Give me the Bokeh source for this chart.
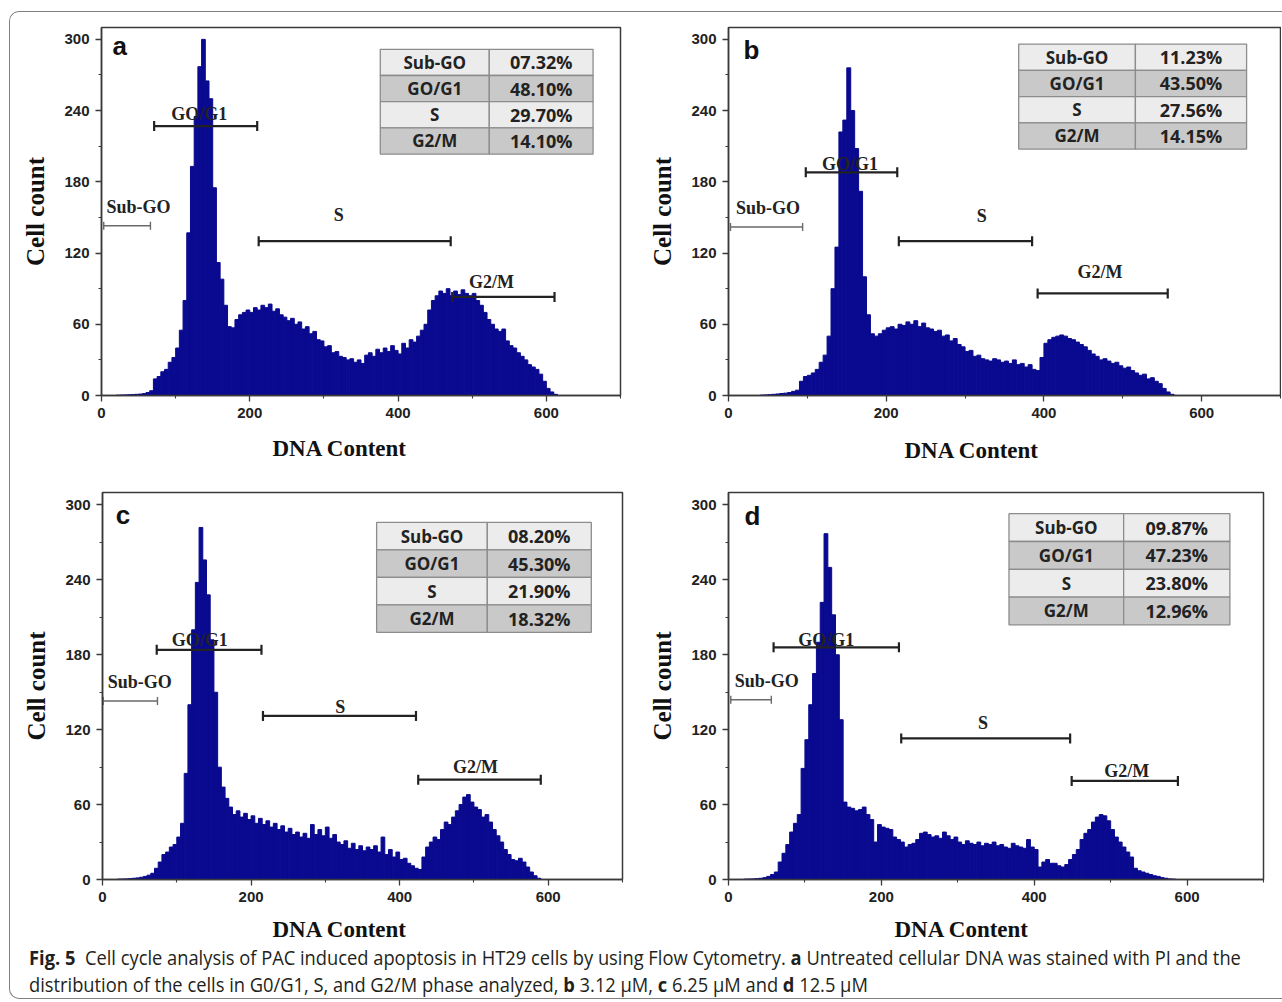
import math
from bokeh.plotting import figure
from bokeh.models import FixedTicker, Div, Range1d, Title
from bokeh.layouts import column, row
from bokeh.embed import file_html
from bokeh.resources import INLINE
from bokeh.core.properties import value

# ---------------- data ----------------
BIN_START = 20      # DNA content channel of the first bin's left edge
BIN_WIDTH = 5       # channels per bin

counts_a = [
    0.3, 0.4, 0.5, 0.6, 0.8, 1, 1.2, 1.6, 2.5, 4,
    14, 16, 20, 22, 28, 32, 40, 55, 80, 137,
    193, 235, 277, 300, 265, 250, 175, 112, 98, 76,
    58, 57, 64, 68, 70, 72, 70, 74, 72, 76,
    74, 77, 71, 73, 68, 66, 63, 65, 60, 62,
    56, 58, 52, 54, 47, 46, 41, 42, 36, 37,
    33, 32, 30, 31, 28, 30, 27, 34, 36, 33,
    39, 36, 40, 37, 42, 38, 35, 44, 40, 47,
    45, 50, 55, 60, 72, 80, 84, 88, 86, 90,
    84, 88, 85, 89, 86, 84, 86, 80, 76, 70,
    64, 60, 56, 54, 56, 46, 42, 40, 36, 33,
    30, 26, 24, 22, 18, 12, 6, 3, 1, 0,
]
counts_b = [
    0, 0, 0, 0, 0.3, 0.5, 0.7, 1, 1.3, 1.7,
    2, 2.5, 3.5, 4.5, 12, 16, 17, 19, 22, 28,
    34, 50, 90, 125, 222, 232, 276, 240, 208, 172,
    100, 68, 52, 50, 52, 55, 57, 58, 56, 60,
    59, 62, 60, 63, 58, 61, 57, 56, 54, 55,
    50, 51, 46, 48, 43, 41, 37, 38, 33, 34,
    31, 30, 29, 31, 30, 28, 29, 27, 30, 26,
    27, 24, 26, 22, 21, 32, 44, 47, 49, 50,
    51, 50, 48, 47, 45, 43, 41, 38, 35, 33,
    30, 31, 29, 27, 28, 25, 23, 24, 21, 19,
    17, 18, 14, 15, 12, 10, 6, 3, 1, 0,
    0, 0, 0, 0, 0, 0, 0, 0, 0, 0,
]
counts_c = [
    0.3, 0.4, 0.5, 0.7, 1, 1.3, 1.8, 2.5, 3.5, 5,
    9, 14, 20, 22, 26, 28, 34, 45, 85, 140,
    200, 238, 282, 256, 228, 192, 150, 90, 74, 65,
    58, 52, 55, 50, 53, 48, 51, 45, 49, 44,
    47, 42, 45, 40, 43, 38, 41, 36, 38, 34,
    37, 33, 44, 36, 40, 35, 42, 33, 36, 30,
    28, 31, 25, 29, 24, 27, 23, 26, 24, 27,
    22, 34, 20, 24, 18, 22, 16, 17, 13, 11,
    9, 8, 18, 26, 30, 34, 32, 40, 46, 44,
    50, 55, 60, 66, 68, 62, 58, 56, 50, 52,
    46, 40, 35, 30, 24, 20, 16, 15, 17, 14,
    10, 6, 3, 1, 0, 0, 0, 0, 0, 0,
]
counts_d = [
    0.3, 0.4, 0.5, 0.7, 1, 1.5, 2.5, 4, 6, 14,
    21, 28, 38, 45, 52, 89, 112, 140, 165, 190,
    222, 277, 250, 212, 180, 128, 62, 58, 57, 55,
    56, 58, 52, 48, 30, 44, 42, 41, 40, 34,
    32, 30, 26, 28, 29, 32, 37, 38, 36, 34,
    35, 33, 38, 35, 32, 34, 30, 28, 31, 29,
    28, 30, 27, 29, 28, 30, 27, 28, 26, 25,
    29, 27, 26, 25, 32, 26, 24, 10, 14, 16,
    13, 13, 11, 10, 12, 16, 20, 24, 32, 37,
    40, 46, 50, 52, 51, 47, 40, 34, 30, 26,
    22, 18, 9, 7, 6, 5, 4, 3, 2.5, 1.5,
    1, 0.5, 0.3, 0, 0, 0, 0, 0, 0, 0,
]

gate_names = ["Sub-GO", "GO/G1", "S", "G2/M"]
# gate markers (DNA content start/end, drawn at a cell-count level) and their label anchors
gate_start_a = [3, 71, 212, 473]
gate_end_a = [66, 210, 471, 611]
gate_level_a = [143, 227, 130, 83]
label_x_a = [50, 132, 320, 526]
label_y_a = [159, 237, 152, 96]

gate_start_b = [2.5, 98, 216, 392]
gate_end_b = [94, 214, 385, 557]
gate_level_b = [142, 188, 130, 86]
label_x_b = [50, 154, 321, 471]
label_y_b = [158, 195, 151, 104]

gate_start_c = [1, 73, 216, 425]
gate_end_c = [74, 214, 422, 590]
gate_level_c = [143, 184, 131, 80]
label_x_c = [50, 131, 320, 502]
label_y_c = [158, 192, 138, 90]

gate_start_d = [3, 59, 226, 449]
gate_end_d = [56, 223, 447, 588]
gate_level_d = [144, 186, 113, 79]
label_x_d = [50, 128, 333, 521]
label_y_d = [159, 192, 125, 87]

phase_rows = ["Sub-GO", "GO/G1", "S", "G2/M"]
pct_a = ["07.32%", "48.10%", "29.70%", "14.10%"]
pct_b = ["11.23%", "43.50%", "27.56%", "14.15%"]
pct_c = ["08.20%", "45.30%", "21.90%", "18.32%"]
pct_d = ["09.87%", "47.23%", "23.80%", "12.96%"]

x_major = [0, 200, 400, 600]
x_minor = [100, 300, 500, 700]
y_major = [0, 60, 120, 180, 240, 300]
y_minor = [30, 90, 150, 210, 270]

# ---------------- styling / layout ----------------
BAR = "#0a0a90"
AX = "#3a3a3a"
SERIF = "Liberation Serif"
SANS = "Liberation Sans"

def make_panel(letter, counts, gs, ge, gl, lx, ly, pct, lay):
    p = figure(width=lay["w"], height=lay["h"], output_backend="svg",
               toolbar_location=None,
               x_range=Range1d(0, 700), y_range=Range1d(0, 310),
               min_border_left=lay["l"], min_border_right=lay["r"],
               min_border_top=lay["t"], min_border_bottom=lay["b"])
    p.background_fill_color = "white"
    p.border_fill_color = "white"
    p.grid.visible = False
    p.outline_line_color = AX
    p.outline_line_width = 1.5

    centers = [BIN_START + BIN_WIDTH * (i + 0.5) for i in range(len(counts))]
    p.vbar(x=centers, top=counts, bottom=0, width=BIN_WIDTH,
           fill_color=BAR, line_color=BAR, line_width=1)

    # gates
    for i in range(len(gs)):
        col = "#6a6a6a" if i == 0 else "#222222"
        lw = 1.4 if i == 0 else 2.2
        p.segment(x0=[gs[i]], y0=[gl[i]], x1=[ge[i]], y1=[gl[i]],
                  line_color=col, line_width=lw)
        p.scatter(x=[gs[i], ge[i]], y=[gl[i], gl[i]], marker="dash",
                  angle=math.pi / 2, size=10 if i else 8,
                  line_color=col, line_width=lw)
    p.text(x=lx, y=ly, text=gate_names, text_font=value(SERIF),
           text_font_style="bold", text_font_size="18px",
           text_align="center", text_baseline="middle", text_color="#222222")

    # inset table
    x0, x1, x2, ttop, tbot = lay["table"]
    rh = (ttop - tbot) / len(phase_rows)
    tops = [ttop - i * rh for i in range(len(phase_rows))]
    bots = [t - rh for t in tops]
    fills = ["#ececec", "#c9c9c9", "#ececec", "#c9c9c9"]
    p.quad(left=[x0] * 4, right=[x1] * 4, top=tops, bottom=bots,
           fill_color=fills, line_color="#8c8c8c", line_width=1.3)
    p.quad(left=[x1] * 4, right=[x2] * 4, top=tops, bottom=bots,
           fill_color=fills, line_color="#8c8c8c", line_width=1.3)
    mids = [t - rh / 2 for t in tops]
    p.text(x=[(x0 + x1) / 2] * 4, y=mids, text=phase_rows,
           text_font=value("Open Sans"), text_font_style="bold",
           text_font_size="17px", text_align="center",
           text_baseline="middle", text_color="#222222")
    p.text(x=[(x1 + x2) / 2] * 4, y=mids, text=pct,
           text_font=value("Open Sans"), text_font_style="bold",
           text_font_size="18px", text_align="center",
           text_baseline="middle", text_color="#222222")

    # panel letter
    p.text(x=[lay["letter"][0]], y=[lay["letter"][1]], text=[letter],
           text_font=value(SANS), text_font_style="bold",
           text_font_size="26px", text_align="left",
           text_baseline="middle", text_color="#111111")

    # axes
    p.xaxis.ticker = FixedTicker(ticks=x_major, minor_ticks=x_minor)
    p.yaxis.ticker = FixedTicker(ticks=y_major, minor_ticks=y_minor)
    p.yaxis.axis_label = "Cell count"
    for ax in (p.xaxis[0], p.yaxis[0]):
        ax.axis_line_color = AX
        ax.axis_line_width = 1.5
        ax.major_tick_line_color = AX
        ax.minor_tick_line_color = AX
        ax.major_tick_line_width = 1.3
        ax.minor_tick_line_width = 1.1
        ax.major_tick_out = 6
        ax.major_tick_in = 0
        ax.minor_tick_out = 3
        ax.minor_tick_in = 0
        ax.major_label_text_font = SANS
        ax.major_label_text_font_style = "bold"
        ax.major_label_text_font_size = "15px"
        ax.major_label_text_color = "#222222"
        ax.major_label_standoff = 6
        ax.axis_label_text_font = SERIF
        ax.axis_label_text_font_style = "bold"
        ax.axis_label_text_color = "#111111"
    p.yaxis.axis_label_text_font_size = "25px"
    p.yaxis.axis_label_standoff = 12

    # x-axis title, placed off-centre as in the original figure
    p.add_layout(Title(text="DNA Content", align="left", offset=lay["xo"],
                       vertical_align="top", standoff=lay["xs"],
                       text_font=SERIF, text_font_style="bold",
                       text_font_size="23px", text_color="#111111"), "below")
    return p

lay_a = dict(w=631, h=470, l=91, r=21, t=15, b=86, xo=171, xs=30,
             table=(376, 523, 663, 291.6, 203.4), letter=(15, 294))
lay_b = dict(w=640, h=470, l=87, r=1, t=14, b=87, xo=176, xs=34,
             table=(368, 516, 657, 296, 207.6), letter=(19, 291))
lay_c = dict(w=631, h=473, l=92, r=19, t=10, b=76, xo=170, xs=24,
             table=(369, 518, 658, 286, 198), letter=(18, 292))
lay_d = dict(w=640, h=473, l=87, r=18, t=10, b=76, xo=166, xs=24,
             table=(367, 517, 656, 293, 204), letter=(21, 291))

pa = make_panel("a", counts_a, gate_start_a, gate_end_a, gate_level_a, label_x_a, label_y_a, pct_a, lay_a)
pb = make_panel("b", counts_b, gate_start_b, gate_end_b, gate_level_b, label_x_b, label_y_b, pct_b, lay_b)
pc = make_panel("c", counts_c, gate_start_c, gate_end_c, gate_level_c, label_x_c, label_y_c, pct_c, lay_c)
pd = make_panel("d", counts_d, gate_start_d, gate_end_d, gate_level_d, label_x_d, label_y_d, pct_d, lay_d)

caption_html = (
    '<div style="padding-left:14px;margin-top:-16px;">'
    '<div style="font-family:\'Open Sans\',sans-serif;font-size:20px;line-height:27px;'
    'color:#231f20;white-space:nowrap;transform:scaleX(0.915);transform-origin:0 0;">'
    '<b>Fig. 5</b>&nbsp; Cell cycle analysis of PAC induced apoptosis in HT29 cells by using '
    'Flow Cytometry. <b>a</b> Untreated cellular DNA was stained with PI and the<br>'
    'distribution of the cells in G0/G1, S, and G2/M phase analyzed, <b>b</b> 3.12 \u00b5M, '
    '<b>c</b> 6.25 \u00b5M and <b>d</b> 12.5 \u00b5M'
    '</div></div>'
)
cap = Div(text=caption_html, width=1271, height=43)

page = column(row(pa, pb), row(pc, pd), cap,
              styles={"border": "1px solid #7f7f7f", "border-right": "none",
                      "border-radius": "10px 0 0 10px",
                      "box-sizing": "border-box", "height": "988px",
                      "overflow": "hidden",
                      "margin-top": "11px", "margin-left": "9px"})

open("out.html", "w").write(file_html(page, INLINE))
